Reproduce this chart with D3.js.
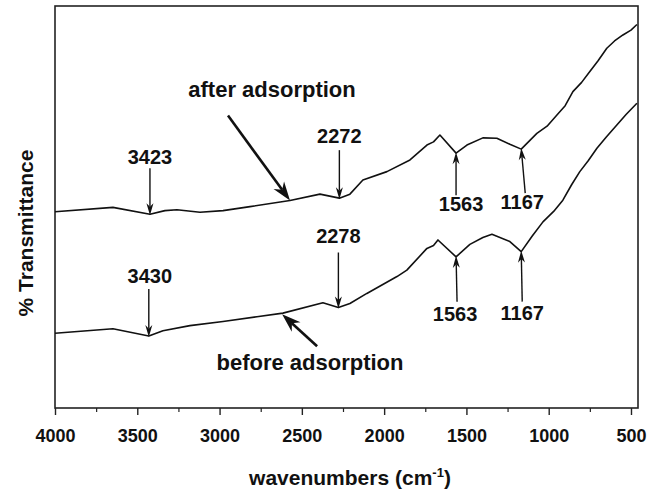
<!DOCTYPE html>
<html>
<head>
<meta charset="utf-8">
<script src="https://cdn.jsdelivr.net/npm/d3@7"></script>
<style>
  html, body { margin: 0; padding: 0; background: #fff; }
  svg text { font-family: "Liberation Sans", Arial, sans-serif; font-weight: bold; fill: #111; }
</style>
</head>
<body>
<svg id="chart" width="661" height="490"></svg>
<script>
// wavenumber (cm-1) and % transmittance (arbitrary offset units)
const afterWn = [4000, 3648, 3423, 3332, 3259, 3119, 2979, 2815, 2572, 2390, 2272, 2208, 2129, 1983,
  1843, 1740, 1700, 1661, 1563, 1497, 1400, 1315, 1236, 1167, 1072, 1010, 950, 900, 853, 800, 750, 700, 647, 600, 549, 500, 464];
const afterT = [48.8, 49.9, 48.2, 49.1, 49.3, 48.7, 49.1, 50.1, 51.6, 53.2, 52.2, 53.2, 56.7, 58.8,
  61.7, 65.4, 66.2, 67.9, 63.4, 65.4, 67.2, 67.1, 65.6, 64.4, 68.3, 70.1, 72.9, 75.2, 78.7, 81.0, 83.7, 86.4, 89.5, 91.3, 92.8, 94.0, 95.4];

const beforeWn = [4000, 3648, 3430, 3344, 3180, 2979, 2773, 2615, 2372, 2278, 2208, 2105, 1922, 1862,
  1740, 1700, 1673, 1563, 1479, 1400, 1345, 1236, 1167, 1100, 1035, 970, 914, 860, 811, 760, 707, 650, 586, 530, 464];
const beforeT = [18.6, 19.7, 17.9, 19.2, 20.5, 21.5, 22.7, 23.6, 26.2, 25.0, 26.0, 28.5, 32.7, 34.3,
  39.7, 40.4, 41.8, 37.6, 40.7, 42.4, 43.2, 41.4, 38.9, 42.8, 46.3, 48.9, 51.7, 55.6, 58.8, 61.5, 64.6, 67.4, 70.4, 73.0, 75.8];

const majorTicks = [4000, 3500, 3000, 2500, 2000, 1500, 1000, 500];
const minorTicks = [3750, 3250, 2750, 2250, 1750, 1250, 750];

// peak labels: series, wavenumber, text
const peakSeries = ['after', 'after', 'after', 'after', 'before', 'before', 'before', 'before'];
const peakWn = [3423, 2272, 1563, 1167, 3430, 2278, 1563, 1167];
const peakLabels = ['3423', '2272', '1563', '1167', '3430', '2278', '1563', '1167'];

const seriesNames = ['after adsorption', 'before adsorption'];

// ---- layout ----
const W = 661, H = 490;
const margin = {top: 6, right: 23, bottom: 82, left: 55};

const svg = d3.select('#chart');

const x = d3.scaleLinear().domain([4000, 457.4]).range([margin.left, W - margin.right]);
const y = d3.scaleLinear().domain([0, 100]).range([H - margin.bottom, margin.top]);

const series = {
  after: afterWn.map((w, i) => ({w: w, t: afterT[i]})),
  before: beforeWn.map((w, i) => ({w: w, t: beforeT[i]}))
};

function valueAt(name, w) {
  const pts = series[name];
  for (let i = 0; i < pts.length - 1; i++) {
    const a = pts[i], b = pts[i + 1];
    if (w <= a.w && w >= b.w) return a.t + (b.t - a.t) * (a.w - w) / (a.w - b.w);
  }
  return pts[pts.length - 1].t;
}

// frame
svg.append('rect')
  .attr('x', margin.left).attr('y', margin.top)
  .attr('width', W - margin.left - margin.right)
  .attr('height', H - margin.top - margin.bottom)
  .attr('fill', 'none').attr('stroke', '#222').attr('stroke-width', 1.6);

// axes
const gx = svg.append('g').attr('transform', `translate(0,${H - margin.bottom})`)
  .call(d3.axisBottom(x).tickValues(majorTicks).tickSize(7).tickPadding(14).tickFormat(d3.format('d')));
gx.select('.domain').remove();
gx.selectAll('.tick line').attr('stroke', '#222').attr('stroke-width', 1.4);
gx.selectAll('.tick text').style('font-size', '18px').attr('fill', '#111');

const gm = svg.append('g').attr('transform', `translate(0,${H - margin.bottom})`)
  .call(d3.axisBottom(x).tickValues(minorTicks).tickSize(4).tickFormat(''));
gm.select('.domain').remove();
gm.selectAll('.tick line').attr('stroke', '#222').attr('stroke-width', 1.2);

// axis titles
const xt = svg.append('text').attr('x', 350).attr('y', 485).attr('text-anchor', 'middle').style('font-size', '21px');
xt.append('tspan').text('wavenumbers (cm');
xt.append('tspan').attr('dy', -8).style('font-size', '13px').text('-1');
xt.append('tspan').attr('dy', 8).text(')');

svg.append('text')
  .attr('transform', 'translate(33,233) rotate(-90)')
  .attr('text-anchor', 'middle').style('font-size', '21px')
  .text('% Transmittance');

// spectra
const line = d3.line().x(d => x(d.w)).y(d => y(d.t));
['after', 'before'].forEach(name => {
  svg.append('path').datum(series[name])
    .attr('d', line).attr('fill', 'none')
    .attr('stroke', '#111').attr('stroke-width', 1.6).attr('stroke-linejoin', 'round');
});

// arrow helper: line plus barbed head
function arrow(x1, y1, x2, y2, width, headLen, headW) {
  const dx = x2 - x1, dy = y2 - y1, len = Math.hypot(dx, dy);
  const ux = dx / len, uy = dy / len, px = -uy, py = ux;
  const bx = x2 - ux * headLen, by = y2 - uy * headLen;
  const nx = x2 - ux * headLen * 0.7, ny = y2 - uy * headLen * 0.7;
  svg.append('line').attr('x1', x1).attr('y1', y1).attr('x2', nx).attr('y2', ny)
    .attr('stroke', '#111').attr('stroke-width', width);
  svg.append('path')
    .attr('d', `M${x2},${y2}L${bx + px * headW / 2},${by + py * headW / 2}L${nx},${ny}L${bx - px * headW / 2},${by - py * headW / 2}Z`)
    .attr('fill', '#111');
}

// peak annotation layout: arrow length, label offset, tail shift, label shift
const peakLayout = [
  {dir: -1, len: 47, lab: 51, tdx: 0, ldx: 0},
  {dir: -1, len: 49, lab: 56, tdx: 0, ldx: 0},
  {dir: 1, len: 43, lab: 59, tdx: 0, ldx: 5},
  {dir: 1, len: 45, lab: 61, tdx: 4, ldx: 1},
  {dir: -1, len: 48, lab: 54, tdx: 0, ldx: 1},
  {dir: -1, len: 56, lab: 66, tdx: 0, ldx: 0},
  {dir: 1, len: 46, lab: 65, tdx: 1, ldx: -1},
  {dir: 1, len: 51, lab: 69, tdx: 1, ldx: 1}
];

peakWn.forEach((w, i) => {
  const L = peakLayout[i];
  const tx = x(w), ty = y(valueAt(peakSeries[i], w)) - L.dir * 1;
  arrow(tx + L.tdx, ty + L.dir * L.len, tx, ty, 1.4, 12, 7);
  svg.append('text').attr('x', tx + L.ldx).attr('y', ty + L.dir * L.lab)
    .attr('text-anchor', 'middle').style('font-size', '20px').text(peakLabels[i]);
});

// series labels with thick arrows
const afterTipW = 2572, beforeTipW = 2620;
const ax = x(afterTipW), ay = y(valueAt('after', afterTipW));
arrow(ax - 62, ay - 85, ax, ay, 2.6, 19, 13);
svg.append('text').attr('x', 272).attr('y', 97).attr('text-anchor', 'middle')
  .style('font-size', '22px').text(seriesNames[0]);

const bx = x(beforeTipW), by = y(valueAt('before', beforeTipW));
arrow(bx + 35, by + 33, bx, by + 1, 2.6, 19, 13);
svg.append('text').attr('x', 310).attr('y', 370).attr('text-anchor', 'middle')
  .style('font-size', '22px').text(seriesNames[1]);
</script>
</body>
</html>
